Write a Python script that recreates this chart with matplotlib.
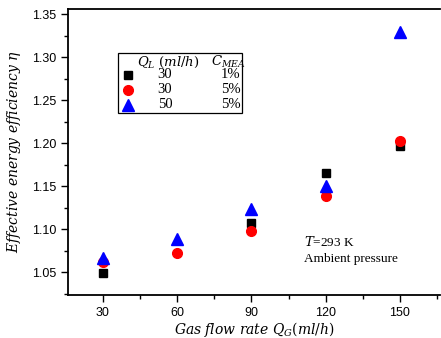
import matplotlib
matplotlib.use("Agg")
import matplotlib.pyplot as plt
from matplotlib.patches import Rectangle
from matplotlib.ticker import MultipleLocator

plt.rcParams["mathtext.fontset"] = "dejavuserif"

gas_flow = [30, 60, 90, 120, 150]
eta_30_1 = [1.049, None, 1.107, 1.165, 1.197]
eta_30_5 = [1.062, 1.072, 1.098, 1.138, 1.202]
eta_50_5 = [1.066, 1.089, 1.124, 1.150, 1.330]
x_ticks = [30, 60, 90, 120, 150]
y_ticks = [1.05, 1.10, 1.15, 1.20, 1.25, 1.30, 1.35]
legend_ql = ["30", "30", "50"]
legend_c = ["1%", "5%", "5%"]

fig = plt.figure(figsize=(4.41, 3.38), dpi=100)
ax = fig.add_axes([68/441, 1-294.7/338, 372/441, (294.7-9)/338])

series = [
    (eta_30_1, "s", "black", 6.0),
    (eta_30_5, "o", "red", 7.0),
    (eta_50_5, "^", "blue", 8.0),
]
for vals, m, c, ms in series:
    xs = [x for x, v in zip(gas_flow, vals) if v is not None]
    ys = [v for v in vals if v is not None]
    ax.plot(xs, ys, linestyle="none", marker=m, color=c, ms=ms, mec=c)

ax.set_xlim(15.9, 166.2)
ax.set_ylim(1.0237, 1.3562)
ax.set_xticks(x_ticks)
ax.set_yticks(y_ticks)
ax.set_yticklabels([f"{v:.2f}" for v in y_ticks])
ax.xaxis.set_minor_locator(MultipleLocator(15))
ax.yaxis.set_minor_locator(MultipleLocator(0.025))
ax.tick_params(which="both", direction="out", top=False, right=False, labelsize=9)
ax.tick_params(which="major", length=5, width=1)
ax.tick_params(which="minor", length=3, width=1)
for lab in ax.get_xticklabels() + ax.get_yticklabels():
    lab.set_fontfamily("Liberation Sans")
ax.spines["right"].set_visible(False)
for s in ["left", "bottom", "top"]:
    ax.spines[s].set_linewidth(1.3)

ax.set_xlabel(r"$\it{Gas\ flow\ rate\ Q_G(ml/h)}$", fontsize=10, labelpad=1)
ax.set_ylabel(r"$\it{Effective\ energy\ efficiency}\ \eta$", fontsize=10, labelpad=6)

def axp(px, py):
    return ((px - 68) / 372, (294.7 - py) / 285.7)

# legend box
x0, y0 = axp(118, 113)
x1, y1 = axp(242, 53)
ax.add_patch(Rectangle((x0, y0), x1 - x0, y1 - y0, transform=ax.transAxes,
                       fill=False, edgecolor="black", lw=0.9))
hx, hy = axp(168, 62)
ax.text(hx, hy, r"$Q_L\ (ml/h)$", transform=ax.transAxes, ha="center", va="center", fontsize=9.5)
cx, cy = axp(228, 62)
ax.text(cx, cy, r"$C_{MEA}$", transform=ax.transAxes, ha="center", va="center", fontsize=9.5)
rows_y = [75, 90, 105]
for (vals, m, c, ms), ql, cc, ry in zip(series, legend_ql, legend_c, rows_y):
    mx, my = axp(128, ry)
    ax.plot([mx], [my], transform=ax.transAxes, marker=m, color=c, ms=ms, linestyle="none")
    tx, ty = axp(165, ry)
    ax.text(tx, ty, ql, transform=ax.transAxes, ha="center", va="center", fontsize=10.5, family="Liberation Serif")
    px_, py_ = axp(231, ry)
    ax.text(px_, py_, cc, transform=ax.transAxes, ha="center", va="center", fontsize=10.5, family="Liberation Serif")

ax1x, ax1y = axp(304, 242)
ax.text(ax1x, ax1y, r"$T$=293 K", transform=ax.transAxes, ha="left", va="center", fontsize=9.5, family="Liberation Serif")
ax2x, ax2y = axp(304, 259)
ax.text(ax2x, ax2y, "Ambient pressure", transform=ax.transAxes, ha="left", va="center", fontsize=9.5, family="Liberation Serif")

fig.savefig("out.png", dpi=100)
